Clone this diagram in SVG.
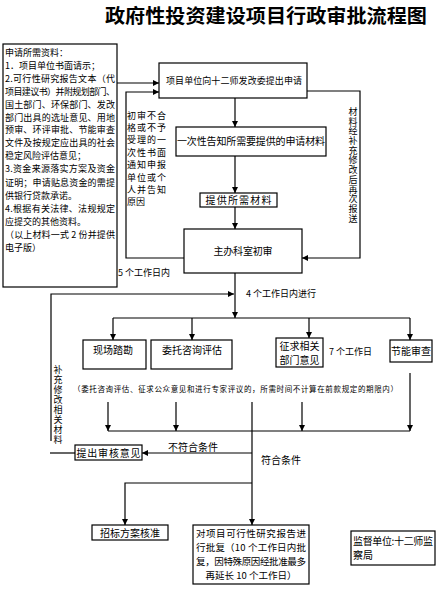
<svg xmlns="http://www.w3.org/2000/svg" width="443" height="600" viewBox="0 0 443 600">
<style>
text{font-family:"Noto Sans CJK SC","Liberation Sans",sans-serif;fill:#000;}
.t{font-size:9px;}
.s{font-size:7.5px;}
.m{font-size:10px;}
.a{font-size:9.5px;}
.box{fill:#fff;stroke:#000;stroke-width:1.2;}
.ln{fill:none;stroke:#000;stroke-width:1.2;}
</style>
<defs>
<marker id="ah" markerUnits="userSpaceOnUse" markerWidth="7" markerHeight="7" refX="6" refY="3" orient="auto">
<path d="M0,0 L6,3 L0,6 z" fill="#000"/>
</marker>
</defs>
<rect width="443" height="600" fill="#fff"/>
<text x="105" y="23" font-size="19" font-weight="bold" textLength="322" lengthAdjust="spacingAndGlyphs">政府性投资建设项目行政审批流程图</text>

<g id="connectors" class="ln">
<path d="M117,83 H159" marker-end="url(#ah)"/>
<path d="M184,258 H126 V92 H159" marker-end="url(#ah)"/>
<path d="M235,98 V127" marker-end="url(#ah)"/>
<path d="M235,156 V193" marker-end="url(#ah)"/>
<path d="M235,207 V229" marker-end="url(#ah)"/>
<path d="M307,91 H360 V258 H302" marker-end="url(#ah)"/>
<path d="M235,273 V318" marker-end="url(#ah)"/>
<path d="M51,441 V294 H234" marker-end="url(#ah)"/>
<path d="M113,318 H410"/>
<path d="M113,318 V340" marker-end="url(#ah)"/>
<path d="M192,318 V340" marker-end="url(#ah)"/>
<path d="M309,318 V338" marker-end="url(#ah)"/>
<path d="M410,318 V340" marker-end="url(#ah)"/>
<path d="M108,402 V431" marker-end="url(#ah)"/>
<path d="M176,402 V431" marker-end="url(#ah)"/>
<path d="M302,402 V431" marker-end="url(#ah)"/>
<path d="M410,373 V431" marker-end="url(#ah)"/>
<path d="M108,431 H410"/>
<path d="M252,402 V525" marker-end="url(#ah)"/>
<path d="M252,453 H142" marker-end="url(#ah)"/>
<path d="M50,453 H75"/>
<path d="M252,483 H125 V525" marker-end="url(#ah)"/>
</g>

<g id="materials">
<rect class="box" x="3" y="44" width="114" height="243"/>
<text class="t" x="5" y="56">申请所需资料：</text>
<text class="t" x="5" y="69">1．项目单位书面请示；</text>
<text class="t" x="5" y="82" textLength="110" lengthAdjust="spacing">2.可行性研究报告文本（代</text>
<text class="t" x="5" y="95" textLength="110" lengthAdjust="spacing">项目建议书）并附规划部门、</text>
<text class="t" x="5" y="108" textLength="110" lengthAdjust="spacing">国土部门、环保部门、发改</text>
<text class="t" x="5" y="121" textLength="110" lengthAdjust="spacing">部门出具的选址意见、用地</text>
<text class="t" x="5" y="133" textLength="110" lengthAdjust="spacing">预审、环评审批、节能审查</text>
<text class="t" x="5" y="146" textLength="110" lengthAdjust="spacing">文件及按规定应出具的社会</text>
<text class="t" x="5" y="159">稳定风险评估意见；</text>
<text class="t" x="5" y="172" textLength="110" lengthAdjust="spacing">3.资金来源落实方案及资金</text>
<text class="t" x="5" y="186" textLength="110" lengthAdjust="spacing">证明；申请贴息资金的需提</text>
<text class="t" x="5" y="199">供银行贷款承诺。</text>
<text class="t" x="5" y="212" textLength="110" lengthAdjust="spacing">4.根据有关法律、法规规定</text>
<text class="t" x="5" y="225">应提交的其他资料。</text>
<text class="t" x="5" y="238" textLength="110" lengthAdjust="spacing">（以上材料一式 2 份并提供</text>
<text class="t" x="5" y="251">电子版）</text>
</g>

<g id="apply">
<rect class="box" x="159" y="63" width="148" height="35"/>
<text class="t" x="234" y="84" text-anchor="middle" textLength="136" lengthAdjust="spacing">项目单位向十二师发改委提出申请</text>
</g>

<g id="reject-note">
<text class="t" x="127" y="119" textLength="39" lengthAdjust="spacing">初审不合</text>
<text class="t" x="127" y="131" textLength="39" lengthAdjust="spacing">格或不予</text>
<text class="t" x="127" y="143" textLength="39" lengthAdjust="spacing">受理的一</text>
<text class="t" x="127" y="156" textLength="39" lengthAdjust="spacing">次性书面</text>
<text class="t" x="127" y="168" textLength="39" lengthAdjust="spacing">通知申报</text>
<text class="t" x="127" y="181" textLength="39" lengthAdjust="spacing">单位或个</text>
<text class="t" x="127" y="193" textLength="39" lengthAdjust="spacing">人并告知</text>
<text class="t" x="127" y="205">原因</text>
</g>

<g id="inform">
<rect class="box" x="176" y="127" width="150" height="29"/>
<text class="m" x="251" y="145" text-anchor="middle" textLength="148" lengthAdjust="spacing">一次性告知所需要提供的申请材料</text>
</g>

<g id="provide">
<rect class="box" x="200" y="193" width="77" height="14"/>
<text class="m" x="238.5" y="204" text-anchor="middle" textLength="66" lengthAdjust="spacing">提供所需材料</text>
</g>

<g id="resubmit-note">
<text class="t" x="353" y="107" writing-mode="tb" letter-spacing="0.7">材料经补充修改后再次报送</text>
</g>

<g id="initial-review">
<rect class="box" x="184" y="229" width="118" height="44"/>
<text class="m" x="243" y="255" text-anchor="middle" textLength="59" lengthAdjust="spacing">主办科室初审</text>
</g>

<text class="t" x="118" y="276">5 个工作日内</text>
<text class="t" x="246" y="297">4 个工作日内进行</text>

<g id="survey">
<rect class="box" x="83" y="340" width="63" height="29"/>
<text class="m" x="113" y="354" text-anchor="middle">现场踏勘</text>
</g>
<g id="consult">
<rect class="box" x="151" y="340" width="81" height="29"/>
<text class="m" x="192" y="354" text-anchor="middle">委托咨询评估</text>
</g>
<g id="dept-opinion">
<rect class="box" x="276" y="338" width="47" height="29"/>
<text class="m" x="299.5" y="350" text-anchor="middle">征求相关</text>
<text class="m" x="299.5" y="364" text-anchor="middle">部门意见</text>
</g>
<text class="t" x="329" y="355">7 个工作日</text>
<g id="energy">
<rect class="box" x="390" y="340" width="42" height="22"/>
<text class="m" x="411" y="355" text-anchor="middle" textLength="40" lengthAdjust="spacing">节能审查</text>
</g>

<text class="s" x="73" y="392" textLength="325" lengthAdjust="spacing">（委托咨询评估、征求公众意见和进行专家评议的，所需时间不计算在前款规定的期限内）</text>

<g id="supplement-note">
<text class="t" x="58" y="365" writing-mode="tb" letter-spacing="1">补充修改相关材料</text>
</g>

<g id="opinion">
<rect class="box" x="75" y="445" width="67" height="15"/>
<text class="m" x="108.5" y="457" text-anchor="middle" textLength="64" lengthAdjust="spacing">提出审核意见</text>
</g>
<text class="m" x="168" y="451">不符合条件</text>
<text class="m" x="261" y="464">符合条件</text>

<g id="bidding">
<rect class="box" x="92" y="525" width="76" height="15"/>
<text class="m" x="130" y="537" text-anchor="middle">招标方案核准</text>
</g>
<g id="approval">
<rect class="box" x="193" y="525" width="116" height="59"/>
<text class="a" x="196" y="537" textLength="110" lengthAdjust="spacing">对项目可行性研究报告进</text>
<text class="a" x="196" y="551" textLength="110" lengthAdjust="spacing">行批复（10 个工作日内批</text>
<text class="a" x="196" y="565" textLength="110" lengthAdjust="spacing">复，因特殊原因经批准最多</text>
<text class="a" x="251" y="579" text-anchor="middle">再延长 10 个工作日）</text>
</g>
<g id="supervisor">
<rect class="box" x="351" y="531" width="84" height="34"/>
<text class="m" x="353" y="545" textLength="80" lengthAdjust="spacing">监督单位:十二师监</text>
<text class="m" x="353" y="559">察局</text>
</g>
</svg>
